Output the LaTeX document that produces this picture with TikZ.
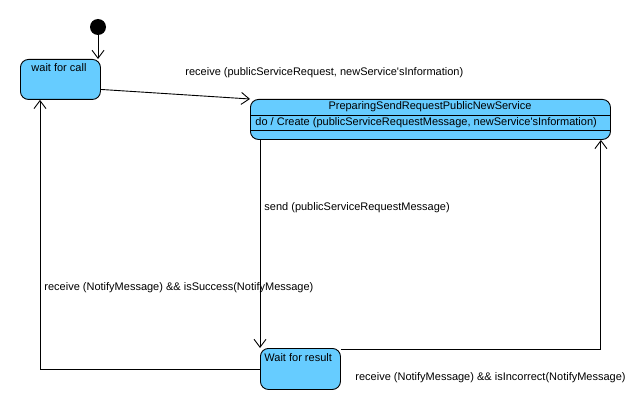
\documentclass[tikz,border=0pt]{standalone}
\usepackage{fontspec}
\setmainfont{Liberation Sans}
\usetikzlibrary{arrows.meta,positioning}
\definecolor{statefill}{HTML}{66CCFF}
\tikzset{
  statebox/.style={draw, fill=statefill, rounded corners=8pt, inner sep=0pt},
  trans/.style={-{Straight Barb[length=8pt,width=12pt]}},
  lbl/.style={font=\fontsize{11}{13}\selectfont, inner sep=0pt},
}
\begin{document}
\begin{tikzpicture}[x=1pt,y=-1pt,line width=0.9pt]
    \fill[white] (0,0) rectangle (636,409);
    \useasboundingbox (0,0) rectangle (636,409);
    % states
    \node[circle,fill=black,minimum size=16pt,inner sep=0pt] (init) at (98,27) {};
    \node[statebox,minimum width=80pt,minimum height=40pt,anchor=north west] (call) at (20,59) {};
    \node[lbl,anchor=west] (calltxt) at (31,68) {wait for call};
    \node[statebox,minimum width=360pt,minimum height=40pt,anchor=north west] (prep) at (250,99) {};
    \node[lbl] (preptxt) at (430,107) {PreparingSendRequestPublicNewService};
    \node[lbl,anchor=west] (doact) at (255,123) {do / Create (publicServiceRequestMessage, newService\textquotesingle sInformation)};
    \draw (prep.west |- 0,115) -- (prep.east |- 0,115) ;
    \draw (prep.west |- 0,130) -- (prep.east |- 0,130) ;
    \node[statebox,minimum width=80pt,minimum height=41pt,anchor=north west] (result) at (260,348) {};
    \node[lbl,anchor=west] (resulttxt) at (264,358) {Wait for result};
    % transitions
    \draw[trans] (init) -- (init |- call.north) ;
    \draw[trans] ([yshift=-10pt]call.east) -- (prep.north west) ;
    \draw[trans] ([xshift=10pt]prep.south west) -- (result.north west) ;
    \draw[trans] ([yshift=-1pt]result.north east) -| ([xshift=-10pt]prep.south east) ;
    \draw[trans] (result.west) -| ([xshift=20pt]call.south west) ;
    % guards
    \node[lbl,anchor=west] (g1) at (185,73) {receive (publicServiceRequest, newService\textquotesingle sInformation)};
    \node[lbl,anchor=west] (g2) at (264,208) {send (publicServiceRequestMessage)};
    \node[lbl,anchor=west] (g3) at (44,288) {receive (NotifyMessage) \&\& isSuccess(NotifyMessage)};
    \node[lbl,anchor=west] (g4) at (355,378) {receive (NotifyMessage) \&\& isIncorrect(NotifyMessage)};
\end{tikzpicture}
\end{document}
